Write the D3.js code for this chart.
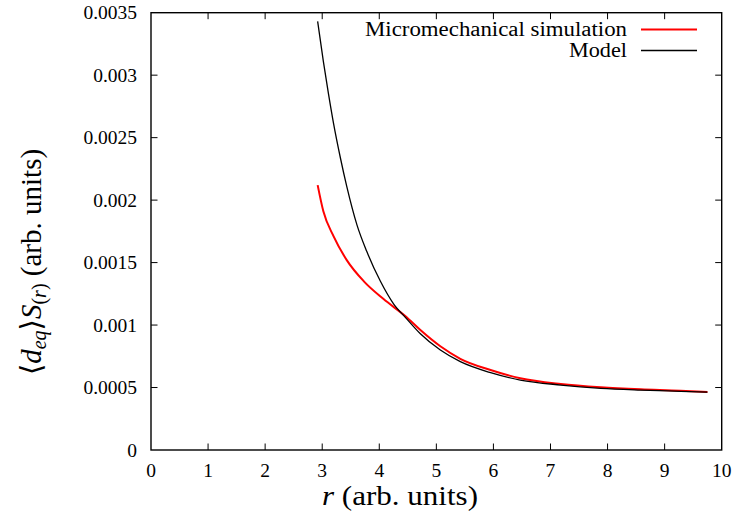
<!DOCTYPE html>
<html>
<head>
<meta charset="utf-8">
<script src="https://cdn.jsdelivr.net/npm/d3@7"></script>
<style>
  html, body { margin: 0; padding: 0; background: #fff; }
</style>
</head>
<body>
<svg id="chart" width="735" height="519" font-family="'Liberation Serif', 'DejaVu Serif', serif"></svg>
<script>
// ---- data ----
const xTicks = [0, 1, 2, 3, 4, 5, 6, 7, 8, 9, 10];
const yTicks = [0, 0.0005, 0.001, 0.0015, 0.002, 0.0025, 0.003, 0.0035];
const yTickLabels = ["0", "0.0005", "0.001", "0.0015", "0.002", "0.0025", "0.003", "0.0035"];

const simR = [2.92, 3.02, 3.20, 3.43, 3.73, 4.07, 4.46, 4.72, 5.07, 5.42, 5.95, 6.47, 7.18, 7.88, 8.58, 9.28, 9.75];
const simV = [0.00212, 0.00191, 0.00171, 0.00152, 0.00135, 0.00121, 0.00107, 0.00096, 0.00083, 0.00073, 0.00064, 0.000574, 0.000528, 0.000502, 0.000486, 0.000475, 0.000464];

const modelR = [2.92, 3.02, 3.11, 3.20, 3.32, 3.43, 3.61, 3.78, 4.02, 4.25, 4.46, 4.72, 5.07, 5.42, 5.95, 6.47, 7.18, 7.88, 8.58, 9.28, 9.75];
const modelV = [0.00343, 0.00311, 0.00285, 0.00261, 0.002335, 0.00211, 0.0018, 0.00159, 0.00135, 0.00117, 0.00106, 0.00093, 0.0008, 0.000707, 0.000619, 0.00056, 0.00052, 0.000494, 0.00048, 0.00047, 0.000464];

const seriesNames = ["Micromechanical simulation", "Model"];

// ---- layout ----
const FONT = "'Liberation Serif', 'DejaVu Serif', serif";
const svg = d3.select("#chart");
const L = 151, R = 721.7, T = 12.7, B = 450;
const x = d3.scaleLinear().domain([0, 10]).range([L, R]);
const y = d3.scaleLinear().domain([0, 0.0035]).range([B, T]);

// ticks (inward, mirrored)
const tickLen = 6.5;
const inner = xTicks.slice(1, -1);
const innerY = yTicks.slice(1, -1);
svg.append("g").selectAll("line").data(inner).join("line")
  .attr("x1", d => x(d)).attr("x2", d => x(d)).attr("y1", B).attr("y2", B - tickLen)
  .attr("stroke", "#000").attr("stroke-width", 1);
svg.append("g").selectAll("line").data(inner).join("line")
  .attr("x1", d => x(d)).attr("x2", d => x(d)).attr("y1", T).attr("y2", T + tickLen)
  .attr("stroke", "#000").attr("stroke-width", 1);
svg.append("g").selectAll("line").data(innerY).join("line")
  .attr("x1", L).attr("x2", L + tickLen).attr("y1", d => y(d)).attr("y2", d => y(d))
  .attr("stroke", "#000").attr("stroke-width", 1);
svg.append("g").selectAll("line").data(innerY).join("line")
  .attr("x1", R).attr("x2", R - tickLen).attr("y1", d => y(d)).attr("y2", d => y(d))
  .attr("stroke", "#000").attr("stroke-width", 1);

// tick labels
svg.append("g").selectAll("text").data(xTicks).join("text")
  .attr("font-family", FONT)
  .attr("x", d => x(d)).attr("y", 476.5)
  .attr("text-anchor", "middle").attr("font-size", 19.5)
  .text(d => d);
svg.append("g").selectAll("text").data(yTicks).join("text")
  .attr("font-family", FONT)
  .attr("x", 137).attr("y", d => y(d) + 6.5)
  .attr("text-anchor", "end").attr("font-size", 19.5)
  .text((d, i) => yTickLabels[i]);

// curves
const line = d3.line().x(d => x(d[0])).y(d => y(d[1])).curve(d3.curveMonotoneX);
const simData = simR.map((r, i) => [r, simV[i]]);
const modelData = modelR.map((r, i) => [r, modelV[i]]);

svg.append("path").datum(simData).attr("d", line)
  .attr("fill", "none").attr("stroke", "#ff0000").attr("stroke-width", 2);
svg.append("path").datum(modelData).attr("d", line)
  .attr("fill", "none").attr("stroke", "#000").attr("stroke-width", 1.3);

// frame
svg.append("rect").attr("x", L).attr("y", T).attr("width", R - L).attr("height", B - T)
  .attr("fill", "none").attr("stroke", "#000").attr("stroke-width", 1.4);

// legend
const legColors = ["#ff0000", "#000"];
const legWidths = [2, 1.3];
const legY = [29.5, 50.5];
const legTextLen = [262, 58];
seriesNames.forEach((name, i) => {
  svg.append("text").attr("font-family", FONT)
    .attr("x", 627).attr("y", legY[i] + 6)
    .attr("text-anchor", "end").attr("font-size", 20)
    .attr("textLength", legTextLen[i]).attr("lengthAdjust", "spacingAndGlyphs")
    .text(name);
  svg.append("line").attr("x1", 641).attr("x2", 697).attr("y1", legY[i]).attr("y2", legY[i])
    .attr("stroke", legColors[i]).attr("stroke-width", legWidths[i]);
});

// x-axis title
const xt = svg.append("text").attr("font-family", FONT)
  .attr("x", 400).attr("y", 505)
  .attr("text-anchor", "middle").attr("font-size", 27)
  .attr("textLength", 156).attr("lengthAdjust", "spacingAndGlyphs");
xt.append("tspan").attr("font-style", "italic").text("r");
xt.append("tspan").text(" (arb. units)");

// y-axis title
const yt = svg.append("text").attr("font-family", FONT)
  .attr("transform", "translate(41,262) rotate(-90)")
  .attr("text-anchor", "middle").attr("font-size", 29);
yt.append("tspan").text("\u27E8");
yt.append("tspan").attr("font-style", "italic").text("d");
yt.append("tspan").attr("font-style", "italic").attr("font-size", 20).attr("dy", 5).text("eq");
yt.append("tspan").attr("dy", -5).text("\u27E9");
yt.append("tspan").attr("font-style", "italic").text("S");
yt.append("tspan").attr("font-size", 20).attr("dy", 5).text("(");
yt.append("tspan").attr("font-size", 20).attr("font-style", "italic").text("r");
yt.append("tspan").attr("font-size", 20).text(")");
yt.append("tspan").attr("dy", -5).text(" (arb. units)");
</script>
</body>
</html>
